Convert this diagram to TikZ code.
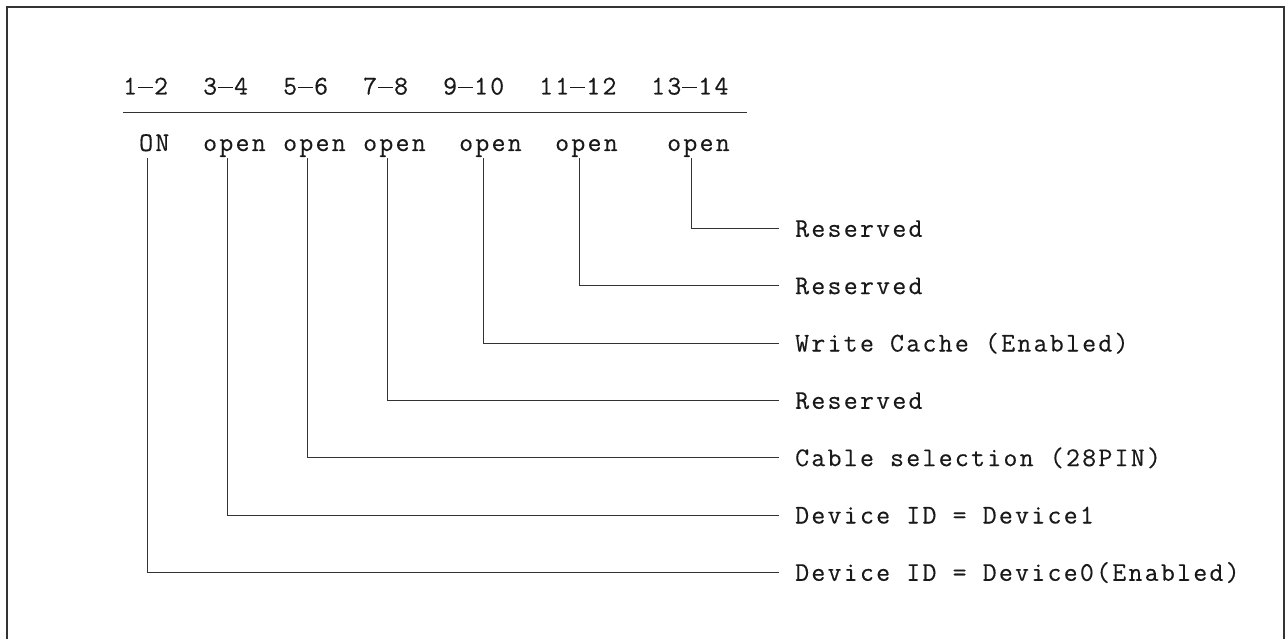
\documentclass[tikz,border=0pt]{standalone}
\usepackage{fontspec}
\newfontfamily\monof[LetterSpace=8.5,FakeBold=0.35]{Latin Modern Mono}
\newcommand\dbar{\hspace{1pt}\rule[6.5pt]{15pt}{1.3pt}\hspace{1pt}}
\begin{document}
\begin{tikzpicture}[x=1pt,y=-1pt,
  txt/.style={inner sep=0pt,anchor=base west,font=\monof\fontsize{27}{30}\selectfont,text=black!90},
  lbl/.style={txt},
  wire/.style={draw=black!80,line width=1pt},
  rulel/.style={draw=black!80,line width=1.5pt},
  frame/.style={draw=black!80,line width=1.6pt}]
\useasboundingbox (0,0) rectangle (1285,639);
\draw[frame] (7,645) -- (7,7) -- (1284,7) -- (1284,645);
% header (16px character grid starting at x=123)
\node[txt] (h1) at (123,94.5) {1\dbar2};
\node[txt] (h2) at (203,94.5) {3\dbar4};
\node[txt] (h3) at (283,94.5) {5\dbar6};
\node[txt] (h4) at (363,94.5) {7\dbar8};
\node[txt] (h5) at (443,94.5) {9\dbar10};
\node[txt] (h6) at (539,94.5) {11\dbar12};
\node[txt] (h7) at (651,94.5) {13\dbar14};
\coordinate (ua) at (123,112.5);
\coordinate (ub) at (747,112.5);
\draw[rulel] (ua) -- (ub);
% states
\node[txt] (s1) at (139,151) {ON};
\node[txt] (s2) at (203,151) {open};
\node[txt] (s3) at (283,151) {open};
\node[txt] (s4) at (363,151) {open};
\node[txt] (s5) at (459,151) {open};
\node[txt] (s6) at (555,151) {open};
\node[txt] (s7) at (667,151) {open};
\coordinate (p1) at (147.5,158);
\coordinate (p2) at (227.5,158);
\coordinate (p3) at (307.5,158);
\coordinate (p4) at (387.5,158);
\coordinate (p5) at (483.5,158);
\coordinate (p6) at (579.5,158);
\coordinate (p7) at (691.5,158);
% labels
\node[lbl] (l7) at (795,236.8) {Reserved};
\node[lbl] (l6) at (795,294.1) {Reserved};
\node[lbl] (l5) at (795,351.5) {Write Cache (Enabled)};
\node[lbl] (l4) at (795,408.8) {Reserved};
\node[lbl] (l3) at (795,466.1) {Cable selection (28PIN)};
\node[lbl] (l2) at (795,523.5) {Device ID = Device1};
\node[lbl] (l1) at (795,580.8) {Device ID = Device0(Enabled)};
\foreach \i in {1,...,7}{
  \draw[wire] (p\i) |- ([xshift=-16pt,yshift=8.5pt]l\i.base west);
}
\end{tikzpicture}
\end{document}
